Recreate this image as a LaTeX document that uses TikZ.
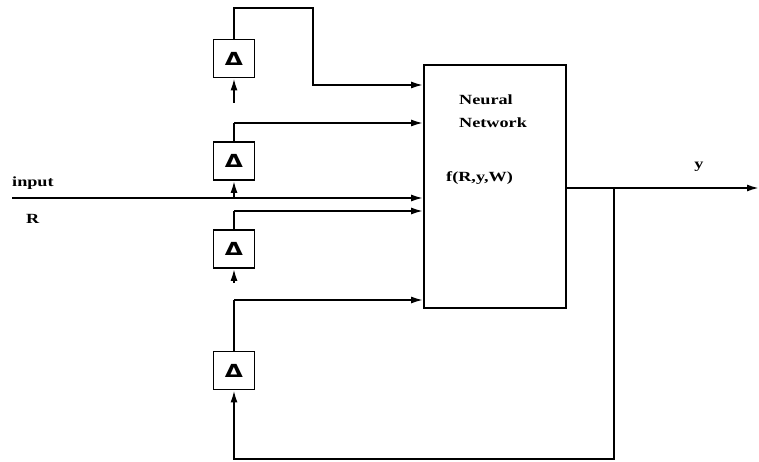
\documentclass[tikz,border=0pt]{standalone}
\usepackage{graphicx}
\usepackage{fontspec}
\setmainfont{Liberation Serif}
\newfontfamily\deltafont{DejaVu Sans}
\usetikzlibrary{arrows.meta}
\begin{document}
\begin{tikzpicture}[x=1pt,y=-1pt,
  wire/.style={line width=1.8pt},
  arr/.style={wire,-{Latex[length=12pt,width=7pt]}},
  nnbox/.style={draw,line width=1.8pt,minimum width=142pt,minimum height=243pt,inner sep=0pt},
  dbox/.style={draw,line width=1.8pt,minimum width=41pt,minimum height=38pt,inner sep=0pt,
    font=\deltafont\bfseries\fontsize{18}{20}\selectfont},
  lbl/.style={inner sep=0pt,font=\fontsize{14}{16}\selectfont\bfseries}]
\useasboundingbox (0,0) rectangle (759,462);
% main block
\node[nnbox] (nn) at (495,186.5) {};
\node[lbl,anchor=west] (t1) at (459,100) {\scalebox{1.3}[1]{Neural}};
\node[lbl,anchor=west] (t2) at (459,123) {\scalebox{1.3}[1]{Network}};
\node[lbl,anchor=west] (t3) at (446,178) {\scalebox{1.3}[1]{f(R,y,W)}};
% delay boxes
\node[dbox] (d1) at (234,58.5) {\scalebox{1.3}[1]{Δ}};
\node[dbox] (d2) at (234,161) {\scalebox{1.3}[1]{Δ}};
\node[dbox] (d3) at (234,249) {\scalebox{1.3}[1]{Δ}};
\node[dbox] (d4) at (234,370.5) {\scalebox{1.3}[1]{Δ}};
% labels
\node[lbl,anchor=west] (lin) at (12,183) {\scalebox{1.3}[1]{input}};
\node[lbl,anchor=west] (lR) at (26,219) {\scalebox{1.3}[1]{R}};
\node[lbl] (ly) at (699,167) {\scalebox{1.3}[1]{y}};
% coordinates
\coordinate (inL) at (12,198);
\coordinate (j2) at (234,198);
\coordinate (k2) at (234,123);
\coordinate (c1) at (313,8);
\coordinate (c2) at (313,85);
\coordinate (k3) at (234,211);
\coordinate (k4) at (234,300);
\coordinate (yo) at (759,188);
\coordinate (fb) at (614,188);
\coordinate (bl) at (234,459);
% input line
\draw[arr] (inL) -- (inL -| nn.west);
\draw[arr] (j2) -- (d2.south);
% R delay chain
\draw[wire] (d2.north) -- (k2);
\draw[arr] (k2) -- (k2 -| nn.west);
\draw[arr,shorten <=20pt] (k2) -- (d1.south);
\draw[arr] (d1.north) |- (c1) -- (c2) -- (c2 -| nn.west);
% y delay chain
\draw[wire] (d4.north) -- (k4);
\draw[arr] (k4) -- (k4 -| nn.west);
\draw[arr,shorten <=17pt] (k4) -- (d3.south);
\draw[wire] (d3.north) -- (k3);
\draw[arr] (k3) -- (k3 -| nn.west);
% output and feedback
\draw[arr] (nn.east |- yo) -- (yo);
\draw[arr] (fb) -- (fb |- bl) -- (bl) -- (d4.south);
\end{tikzpicture}
\end{document}
